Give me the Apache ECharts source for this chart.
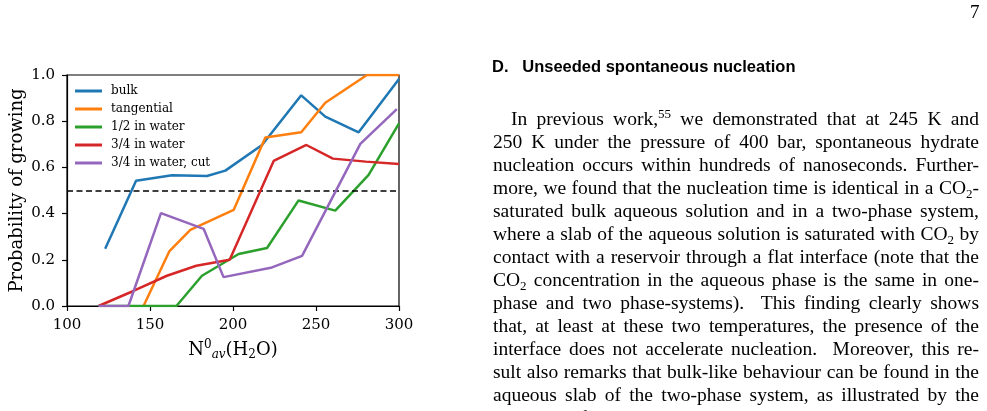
<!DOCTYPE html>
<html>
<head>
<meta charset="utf-8">
<script src="https://cdn.jsdelivr.net/npm/echarts@6/dist/echarts.min.js"></script>
<style>
  html, body { margin: 0; padding: 0; background: #fff; overflow: hidden; }
  #chart { position: absolute; left: 0; top: 0; width: 987px; height: 411px; }
  .page { position: absolute; left: 0; top: 0; width: 987px; height: 411px; pointer-events: none; }
  .pno { position: absolute; left: 970px; top: 0px; font: 19px "Liberation Serif", serif; line-height: 23px; }
  .head { position: absolute; left: 492px; top: 57px; font: bold 16.5px "Liberation Sans", sans-serif; white-space: pre; }
  .ln { position: absolute; left: 493px; width: 486px; height: 23px; line-height: 23px;
        font: 19.5px "Liberation Serif", serif; text-align: justify; text-align-last: justify; white-space: nowrap; }
  .ln.first { left: 511px; width: 468px; }
  .ln.last { text-align: left; text-align-last: left; }
  .sup { font-size: 13px; vertical-align: 7px; line-height: 0; }
  .sub { font-size: 13px; vertical-align: -4px; line-height: 0; }
</style>
</head>
<body>
<div id="chart"></div>
<div class="page" id="page">
  <div class="pno">7</div>
  <div class="head">D.   Unseeded spontaneous nucleation</div>
</div>
<script>
// 数据
var bulkN = [123, 141.6, 163.3, 184.3, 195.4, 217.5, 241.1, 255.6, 275.7, 300];
var bulkP = [0.248, 0.542, 0.566, 0.563, 0.586, 0.697, 0.912, 0.82, 0.752, 0.983];

var tangN = [146.1, 161.6, 174.3, 200.4, 219.5, 241.1, 255.6, 280.7, 300];
var tangP = [0, 0.236, 0.33, 0.416, 0.729, 0.752, 0.88, 1.0, 1.0];

var halfN = [119, 165.9, 181.3, 203.4, 220.5, 239.5, 261.6, 281.7, 300];
var halfP = [0, 0, 0.131, 0.225, 0.251, 0.457, 0.413, 0.568, 0.791];

var threeN = [119, 140, 160.2, 177.9, 198, 224.5, 244.2, 260.2, 280, 300];
var threeP = [0, 0.065, 0.131, 0.174, 0.2, 0.628, 0.697, 0.638, 0.625, 0.615];

var cutN = [119, 137, 156.6, 182.3, 194.3, 223.5, 241.6, 276.7, 298.7];
var cutP = [0, 0, 0.402, 0.334, 0.125, 0.167, 0.217, 0.702, 0.852];

var seriesNames = ['bulk', 'tangential', '1/2 in water', '3/4 in water', '3/4 in water, cut'];
var seriesColors = ['#1f77b4', '#ff7f0e', '#2ca02c', '#d62728', '#9467bd'];
var threshold = 0.5;

var xTicks = { min: 100, max: 300, interval: 50 };
var yTicks = { min: 0, max: 1, interval: 0.2 };

// 右侧正文
var textLines = [
  'In previous work,<span class="sup">55</span> we demonstrated that at 245 K and',
  '250 K under the pressure of 400 bar, spontaneous hydrate',
  'nucleation occurs within hundreds of nanoseconds. Further-',
  'more, we found that the nucleation time is identical in a CO<span class="sub">2</span>-',
  'saturated bulk aqueous solution and in a two-phase system,',
  'where a slab of the aqueous solution is saturated with CO<span class="sub">2</span> by',
  'contact with a reservoir through a flat interface (note that the',
  'CO<span class="sub">2</span> concentration in the aqueous phase is the same in one-',
  'phase and two phase-systems).&nbsp; This finding clearly shows',
  'that, at least at these two temperatures, the presence of the',
  'interface does not accelerate nucleation.&nbsp; Moreover, this re-',
  'sult also remarks that bulk-like behaviour can be found in the',
  'aqueous slab of the two-phase system, as illustrated by the',
  'density profiles shown in Fig. 2.'
];

(function(){
  var page = document.getElementById('page');
  for (var i = 0; i < textLines.length; i++) {
    var d = document.createElement('div');
    d.className = 'ln' + (i === 0 ? ' first' : '') + (i === textLines.length - 1 ? ' last' : '');
    d.style.top = (108 + i * 23) + 'px';
    d.innerHTML = textLines[i];
    page.appendChild(d);
  }
})();

// 折线图
(function(){
  var myChart = echarts.init(document.getElementById('chart'));
  var font = 'DejaVu Serif';

  function pairs(xs, ys) {
    var out = [];
    for (var i = 0; i < xs.length; i++) out.push([xs[i], ys[i]]);
    return out;
  }
  var allN = [bulkN, tangN, halfN, threeN, cutN];
  var allP = [bulkP, tangP, halfP, threeP, cutP];

  var series = [];
  for (var k = 0; k < seriesNames.length; k++) {
    series.push({
      name: seriesNames[k],
      type: 'line',
      symbol: 'none',
      data: pairs(allN[k], allP[k]),
      lineStyle: { width: 2.5, color: seriesColors[k] },
      itemStyle: { color: seriesColors[k] },
      z: 2 + k
    });
  }
  series[0].markLine = {
    silent: true,
    symbol: 'none',
    label: { show: false },
    lineStyle: { color: '#000', type: [6, 3.5], width: 1.5 },
    data: [{ yAxis: threshold }]
  };

  var option = {
    animation: false,
    grid: {
      left: 67, top: 75, width: 332, height: 231,
      show: true, borderColor: '#000', borderWidth: 1.2, backgroundColor: 'transparent'
    },
    legend: {
      orient: 'vertical',
      left: 75, top: 84,
      padding: 0,
      icon: 'rect',
      itemWidth: 27, itemHeight: 3,
      itemGap: 4,
      data: seriesNames,
      textStyle: { fontFamily: font, fontSize: 12, color: '#000', lineHeight: 14, padding: [0, 0, 0, 4] }
    },
    xAxis: {
      type: 'value',
      min: xTicks.min, max: xTicks.max, interval: xTicks.interval,
      name: 'N{sup|0}{sub|av}(H{sub2|2}O)',
      nameLocation: 'middle',
      nameGap: 33,
      nameTextStyle: {
        fontFamily: font, fontSize: 18, color: '#000',
        rich: {
          sup: { fontFamily: font, fontSize: 12, verticalAlign: 'top', padding: [0, 0, 8, 0], color: '#000' },
          sub: { fontFamily: font, fontSize: 12, fontStyle: 'italic', padding: [10, 0, 0, 0], color: '#000' },
          sub2: { fontFamily: font, fontSize: 12, padding: [10, 0, 0, 0], color: '#000' }
        }
      },
      axisLine: { lineStyle: { color: '#000', width: 1.2 } },
      axisTick: { length: 5, lineStyle: { color: '#000', width: 1.2 } },
      axisLabel: { fontFamily: font, fontSize: 15, color: '#000', margin: 12 },
      splitLine: { show: false }
    },
    yAxis: {
      type: 'value',
      min: yTicks.min, max: yTicks.max, interval: yTicks.interval,
      name: 'Probability of growing',
      nameLocation: 'middle',
      nameGap: 41,
      nameTextStyle: { fontFamily: font, fontSize: 18, color: '#000' },
      axisLine: { show: true, lineStyle: { color: '#000', width: 1.2 } },
      axisTick: { show: true, length: 5, lineStyle: { color: '#000', width: 1.2 } },
      axisLabel: {
        fontFamily: font, fontSize: 15, color: '#000', margin: 12,
        formatter: function (v) { return v.toFixed(1); }
      },
      splitLine: { show: false }
    },
    series: series
  };
  myChart.setOption(option);
  window.addEventListener('resize', function(){
    myChart.resize();
  });
})();
</script>
</body>
</html>
